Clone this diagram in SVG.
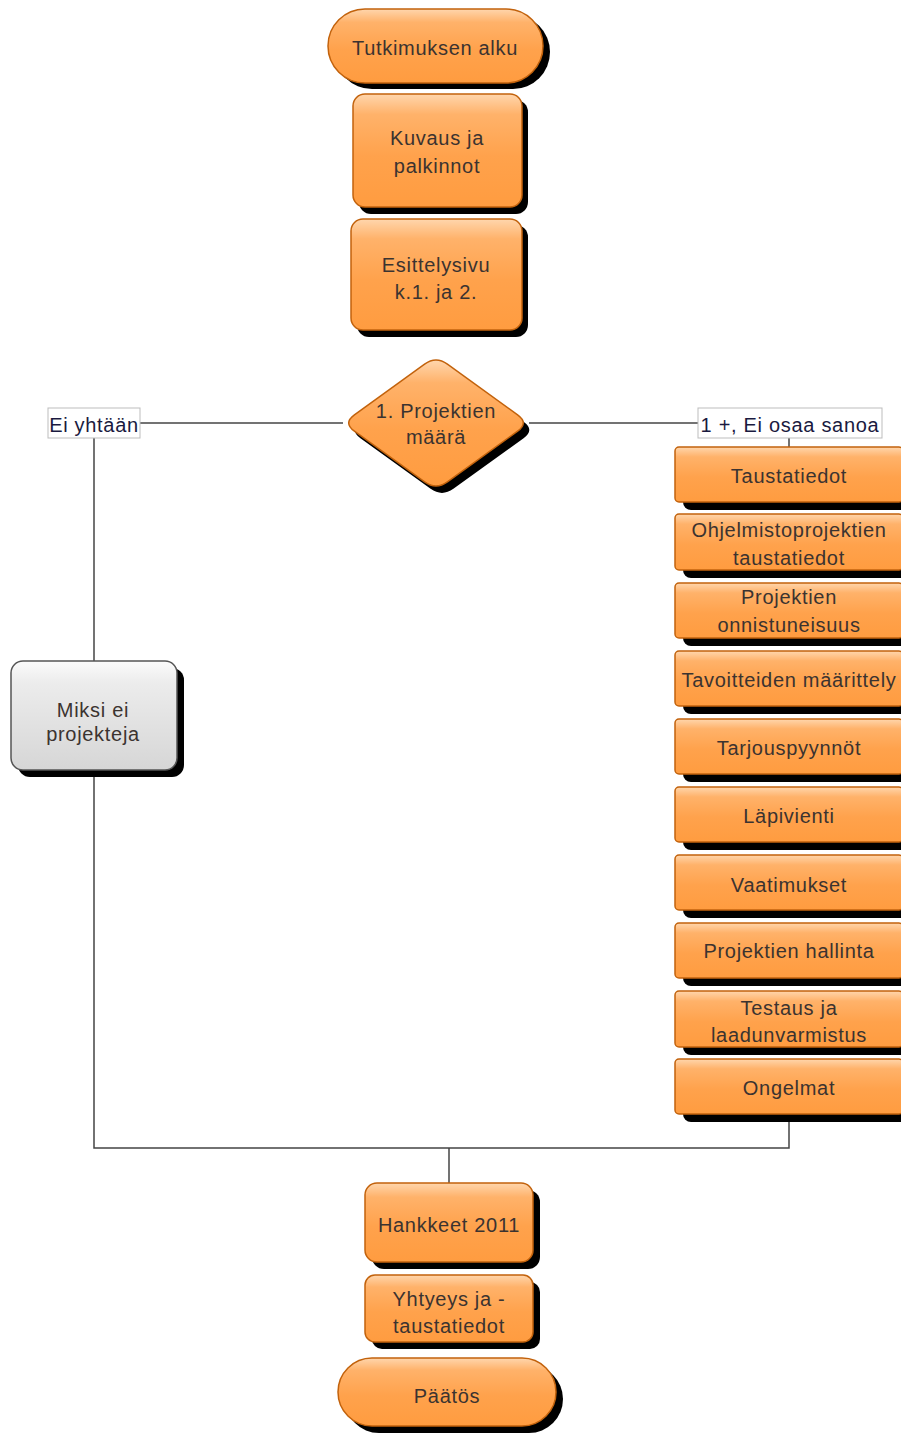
<svg xmlns="http://www.w3.org/2000/svg" width="901" height="1434" viewBox="0 0 901 1434">
<defs>
<linearGradient id="og" x1="0" y1="0" x2="0" y2="1">
<stop offset="0" stop-color="#ffd6ad"/>
<stop offset="0.18" stop-color="#ffb26a"/>
<stop offset="0.55" stop-color="#ffa24c"/>
<stop offset="1" stop-color="#ff9c40"/>
</linearGradient>
<linearGradient id="gg" x1="0" y1="0" x2="0" y2="1">
<stop offset="0" stop-color="#fbfbfb"/>
<stop offset="0.2" stop-color="#ececec"/>
<stop offset="1" stop-color="#d6d6d6"/>
</linearGradient>
<style>
.n{fill:url(#og);stroke:#c2620c;stroke-width:1.5}
.g{fill:url(#gg);stroke:#555;stroke-width:1.5}
.s{fill:#000}
.t{font-family:"Liberation Sans",Arial,sans-serif;font-size:20px;letter-spacing:0.7px;fill:#3b3330;text-anchor:middle}
.lb{fill:#fff;stroke:#bdbdbd;stroke-width:1}
.lt{font-family:"Liberation Sans",Arial,sans-serif;font-size:20px;letter-spacing:0.7px;fill:#1a1a40;text-anchor:middle}
.c{fill:none;stroke:#444;stroke-width:1.5}
</style>
</defs>

<g id="connectors">
<line class="c" x1="140" y1="423" x2="343" y2="423"/>
<line class="c" x1="529" y1="423" x2="698" y2="423"/>
<line class="c" x1="94" y1="438" x2="94" y2="662"/>
<line class="c" x1="789" y1="438" x2="789" y2="447"/>
<polyline class="c" points="94,777 94,1148 789,1148 789,1113"/>
<line class="c" x1="449" y1="1148" x2="449" y2="1183"/>
</g>

<g id="n-start">
<rect class="s" x="335" y="15" width="215" height="74" rx="37"/>
<rect class="n" x="328" y="9" width="215" height="74" rx="37"/>
<text class="t" x="435" y="55">Tutkimuksen alku</text>
</g>

<g id="n-kuvaus">
<rect class="s" x="359" y="100" width="169" height="114" rx="12"/>
<rect class="n" x="353" y="94" width="169" height="113" rx="12"/>
<text class="t" x="437" y="145">Kuvaus ja</text>
<text class="t" x="437" y="173">palkinnot</text>
</g>

<g id="n-esittely">
<rect class="s" x="357" y="225" width="171" height="112" rx="12"/>
<rect class="n" x="351" y="219" width="171" height="111" rx="12"/>
<text class="t" x="436" y="272">Esittelysivu</text>
<text class="t" x="436" y="299">k.1. ja 2.</text>
</g>

<g id="n-decision">
<path class="s" transform="translate(6,7)" d="M354.4,414.8 L424.6,364.2 Q436,356 447.4,364.2 L517.6,414.8 Q529,423 517.6,431.2 L447.4,481.8 Q436,490 424.6,481.8 L354.4,431.2 Q343,423 354.4,414.8 Z"/>
<path class="n" d="M354.4,414.8 L424.6,364.2 Q436,356 447.4,364.2 L517.6,414.8 Q529,423 517.6,431.2 L447.4,481.8 Q436,490 424.6,481.8 L354.4,431.2 Q343,423 354.4,414.8 Z"/>
<text class="t" x="436" y="418">1. Projektien</text>
<text class="t" x="436" y="444">määrä</text>
</g>

<g id="l-ei">
<rect class="lb" x="48" y="408" width="92" height="30"/>
<text class="lt" x="94" y="432">Ei yhtään</text>
</g>

<g id="l-yes">
<rect class="lb" x="698" y="408" width="184" height="30"/>
<text class="lt" x="790" y="432">1 +, Ei osaa sanoa</text>
</g>

<g id="n-miksi">
<rect class="s" x="18" y="668" width="166" height="109" rx="12"/>
<rect class="g" x="11" y="661" width="166" height="109" rx="12"/>
<text class="t" x="93" y="717">Miksi ei</text>
<text class="t" x="93" y="741">projekteja</text>
</g>

<g id="n-r1">
<rect class="s" x="683" y="455" width="228" height="55" rx="8"/>
<rect class="n" x="675" y="447" width="228" height="55" rx="4"/>
<text class="t" x="789" y="483">Taustatiedot</text>
</g>
<g id="n-r2">
<rect class="s" x="683" y="522" width="228" height="56" rx="8"/>
<rect class="n" x="675" y="514" width="228" height="56" rx="4"/>
<text class="t" x="789" y="537">Ohjelmistoprojektien</text>
<text class="t" x="789" y="565">taustatiedot</text>
</g>
<g id="n-r3">
<rect class="s" x="683" y="591" width="228" height="55" rx="8"/>
<rect class="n" x="675" y="583" width="228" height="55" rx="4"/>
<text class="t" x="789" y="604">Projektien</text>
<text class="t" x="789" y="632">onnistuneisuus</text>
</g>
<g id="n-r4">
<rect class="s" x="683" y="659" width="228" height="55" rx="8"/>
<rect class="n" x="675" y="651" width="228" height="55" rx="4"/>
<text class="t" x="789" y="687">Tavoitteiden määrittely</text>
</g>
<g id="n-r5">
<rect class="s" x="683" y="727" width="228" height="55" rx="8"/>
<rect class="n" x="675" y="719" width="228" height="55" rx="4"/>
<text class="t" x="789" y="755">Tarjouspyynnöt</text>
</g>
<g id="n-r6">
<rect class="s" x="683" y="795" width="228" height="55" rx="8"/>
<rect class="n" x="675" y="787" width="228" height="55" rx="4"/>
<text class="t" x="789" y="823">Läpivienti</text>
</g>
<g id="n-r7">
<rect class="s" x="683" y="863" width="228" height="55" rx="8"/>
<rect class="n" x="675" y="855" width="228" height="55" rx="4"/>
<text class="t" x="789" y="892">Vaatimukset</text>
</g>
<g id="n-r8">
<rect class="s" x="683" y="931" width="228" height="55" rx="8"/>
<rect class="n" x="675" y="923" width="228" height="55" rx="4"/>
<text class="t" x="789" y="958">Projektien hallinta</text>
</g>
<g id="n-r9">
<rect class="s" x="683" y="999" width="228" height="56" rx="8"/>
<rect class="n" x="675" y="991" width="228" height="56" rx="4"/>
<text class="t" x="789" y="1015">Testaus ja</text>
<text class="t" x="789" y="1042">laadunvarmistus</text>
</g>
<g id="n-r10">
<rect class="s" x="683" y="1067" width="228" height="55" rx="8"/>
<rect class="n" x="675" y="1059" width="228" height="55" rx="4"/>
<text class="t" x="789" y="1095">Ongelmat</text>
</g>

<g id="n-hankkeet">
<rect class="s" x="372" y="1190" width="168" height="79" rx="12"/>
<rect class="n" x="365" y="1183" width="168" height="79" rx="12"/>
<text class="t" x="449" y="1232">Hankkeet 2011</text>
</g>

<g id="n-yhteys">
<rect class="s" x="372" y="1282" width="168" height="67" rx="10"/>
<rect class="n" x="365" y="1275" width="168" height="67" rx="10"/>
<text class="t" x="449" y="1306">Yhtyeys ja -</text>
<text class="t" x="449" y="1333">taustatiedot</text>
</g>

<g id="n-end">
<rect class="s" x="345" y="1365" width="218" height="68" rx="34"/>
<rect class="n" x="338" y="1358" width="218" height="68" rx="34"/>
<text class="t" x="447" y="1403">Päätös</text>
</g>
</svg>
